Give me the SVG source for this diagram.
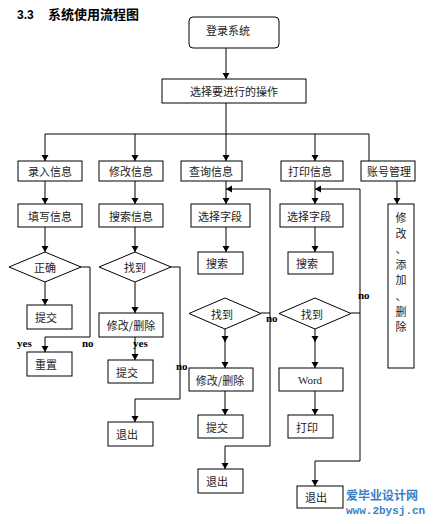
<svg xmlns="http://www.w3.org/2000/svg" width="434" height="524" viewBox="0 0 434 524">
<style>
.b{fill:#fff;stroke:#000;stroke-width:1}
.t{font-family:"Noto Sans CJK SC","Liberation Sans",sans-serif;font-size:11px;fill:#222;text-anchor:middle;dominant-baseline:central}
.w{font-family:"Liberation Serif",serif;font-size:11px;fill:#222;text-anchor:middle;dominant-baseline:central}
.l{font-family:"Liberation Serif",serif;font-size:11px;font-weight:bold;fill:#000}
.c{fill:none;stroke:#000;stroke-width:1}
.m{font-family:"Noto Sans CJK SC",sans-serif;font-size:12px;font-weight:bold;fill:#3a7fc4}
.u{font-family:"Liberation Mono",monospace;font-size:11px;font-weight:bold;fill:#3a7fc4}
</style>
<defs>
<marker id="a" markerUnits="userSpaceOnUse" markerWidth="8" markerHeight="8" refX="6" refY="3.5" orient="auto"><path d="M0,0 L6,3.5 L0,7 Z" fill="#000"/></marker>
</defs>
<rect width="434" height="524" fill="#fff"/>
<text x="17" y="19" font-family="Liberation Sans,sans-serif" font-size="12" font-weight="bold" fill="#000">3.3</text>
<text x="48" y="19" font-family="Noto Sans CJK SC,sans-serif" font-size="13" font-weight="bold" fill="#000">系统使用流程图</text>
<g id="connectors">
<path class="c" d="M226,48 V79" marker-end="url(#a)"/>
<path class="c" d="M226,103 V134 M45,134 H369 M369,134 V161"/>
<path class="c" d="M45,134 V161" marker-end="url(#a)"/>
<path class="c" d="M135,134 V161" marker-end="url(#a)"/>
<path class="c" d="M226,134 V161" marker-end="url(#a)"/>
<path class="c" d="M315,134 V161" marker-end="url(#a)"/>
<path class="c" d="M45,181 V204" marker-end="url(#a)"/>
<path class="c" d="M45,227 V252" marker-end="url(#a)"/>
<path class="c" d="M45,282 V305" marker-end="url(#a)"/>
<path class="c" d="M80,267 H90 V337 H45 V352" marker-end="url(#a)"/>
<path class="c" d="M135,181 V204" marker-end="url(#a)"/>
<path class="c" d="M135,227 V252" marker-end="url(#a)"/>
<path class="c" d="M135,282 V313" marker-end="url(#a)"/>
<path class="c" d="M135,337 V360" marker-end="url(#a)"/>
<path class="c" d="M171,267 H180 V399 H135 V422" marker-end="url(#a)"/>
<path class="c" d="M226,181 V204" marker-end="url(#a)"/>
<path class="c" d="M270,189 H226" marker-end="url(#a)"/>
<path class="c" d="M226,227 V252" marker-end="url(#a)"/>
<path class="c" d="M261,313 H270 M270,189 V446 H225 V469" marker-end="url(#a)"/>
<path class="c" d="M225,329 V342" marker-end="url(#a)"/>
<path class="c" d="M225,340 V368" marker-end="url(#a)"/>
<path class="c" d="M225,391 V415" marker-end="url(#a)"/>
<path class="c" d="M315,181 V204" marker-end="url(#a)"/>
<path class="c" d="M360,189 H315" marker-end="url(#a)"/>
<path class="c" d="M315,227 V252" marker-end="url(#a)"/>
<path class="c" d="M351,313 H360 M360,189 V461 H315 V486" marker-end="url(#a)"/>
<path class="c" d="M315,329 V342" marker-end="url(#a)"/>
<path class="c" d="M315,340 V368" marker-end="url(#a)"/>
<path class="c" d="M315,391 V415" marker-end="url(#a)"/>
<path class="c" d="M397,181 V204" marker-end="url(#a)"/>
<text class="l" x="17" y="347">yes</text>
<text class="l" x="82" y="347">no</text>
<text class="l" x="133" y="347">yes</text>
<text class="l" x="176" y="370">no</text>
<text class="l" x="266" y="322">no</text>
<text class="l" x="358" y="299">no</text>
</g>
<g id="login"><rect class="b" x="189" y="17" width="90" height="31" rx="4"/><text class="t" x="228" y="30">登录系统</text></g>
<g id="choose"><rect class="b" x="162" y="79" width="144" height="24"/><text class="t" x="234" y="91">选择要进行的操作</text></g>
<g id="input"><rect class="b" x="18" y="161" width="64" height="20"/><text class="t" x="50" y="171">录入信息</text></g>
<g id="fill"><rect class="b" x="18" y="204" width="64" height="23"/><text class="t" x="50" y="215.5">填写信息</text></g>
<g id="correct"><path class="b" d="M45,252 L81,267 L45,282 L9,267 Z"/><text class="t" x="45" y="267">正确</text></g>
<g id="submit1"><rect class="b" x="27" y="305" width="45" height="24"/><text class="t" x="46" y="317">提交</text></g>
<g id="reset"><rect class="b" x="27" y="352" width="45" height="24"/><text class="t" x="46" y="364">重置</text></g>
<g id="modify"><rect class="b" x="99" y="161" width="64" height="20"/><text class="t" x="131" y="171">修改信息</text></g>
<g id="search2"><rect class="b" x="99" y="204" width="64" height="23"/><text class="t" x="131" y="215.5">搜索信息</text></g>
<g id="found2"><path class="b" d="M135,252 L171,267 L135,282 L99,267 Z"/><text class="t" x="135" y="267">找到</text></g>
<g id="edit2"><rect class="b" x="99" y="313" width="64" height="24"/><text class="t" x="131" y="325">修改/删除</text></g>
<g id="submit2"><rect class="b" x="108" y="360" width="45" height="23"/><text class="t" x="127" y="371.5">提交</text></g>
<g id="exit2"><rect class="b" x="108" y="422" width="45" height="24"/><text class="t" x="127" y="434">退出</text></g>
<g id="query"><rect class="b" x="181" y="161" width="61" height="20"/><text class="t" x="211" y="171">查询信息</text></g>
<g id="field3"><rect class="b" x="191" y="204" width="59" height="23"/><text class="t" x="220" y="215.5">选择字段</text></g>
<g id="search3"><rect class="b" x="198" y="252" width="45" height="22"/><text class="t" x="217" y="263">搜索</text></g>
<g id="found3"><path class="b" d="M225,298 L261,313.5 L225,329 L189,313.5 Z"/><text class="t" x="222" y="313.5">找到</text></g>
<g id="edit3"><rect class="b" x="189" y="368" width="64" height="23"/><text class="t" x="220" y="379.5">修改/删除</text></g>
<g id="submit3"><rect class="b" x="198" y="415" width="45" height="23"/><text class="t" x="217" y="426.5">提交</text></g>
<g id="exit3"><rect class="b" x="198" y="469" width="45" height="24"/><text class="t" x="217" y="481">退出</text></g>
<g id="print"><rect class="b" x="281" y="161" width="62" height="20"/><text class="t" x="310" y="171">打印信息</text></g>
<g id="field4"><rect class="b" x="280" y="204" width="63" height="23"/><text class="t" x="309" y="215.5">选择字段</text></g>
<g id="search4"><rect class="b" x="288" y="252" width="45" height="22"/><text class="t" x="307" y="263">搜索</text></g>
<g id="found4"><path class="b" d="M315,298 L351,313.5 L315,329 L279,313.5 Z"/><text class="t" x="312" y="313.5">找到</text></g>
<g id="word"><rect class="b" x="279" y="368" width="64" height="23"/><text class="w" x="310" y="380">Word</text></g>
<g id="doprint"><rect class="b" x="288" y="415" width="45" height="23"/><text class="t" x="307" y="426.5">打印</text></g>
<g id="exit4"><rect class="b" x="297" y="486" width="46" height="22"/><text class="t" x="316" y="497">退出</text></g>
<g id="account"><rect class="b" x="361" y="161" width="54" height="20"/><text class="t" x="389" y="171">账号管理</text></g>
<g id="acctops"><rect class="b" x="388" y="204" width="26" height="164"/>
<text class="t" x="401" y="217">修</text><text class="t" x="401" y="233">改</text><text class="t" x="401" y="248">、</text><text class="t" x="401" y="264">添</text><text class="t" x="401" y="279">加</text><text class="t" x="401" y="295">、</text><text class="t" x="401" y="311">删</text><text class="t" x="401" y="326">除</text></g>
<text class="m" x="346" y="500">爱毕业设计网</text>
<text class="u" x="346" y="514">www.2bysj.cn</text>
</svg>
